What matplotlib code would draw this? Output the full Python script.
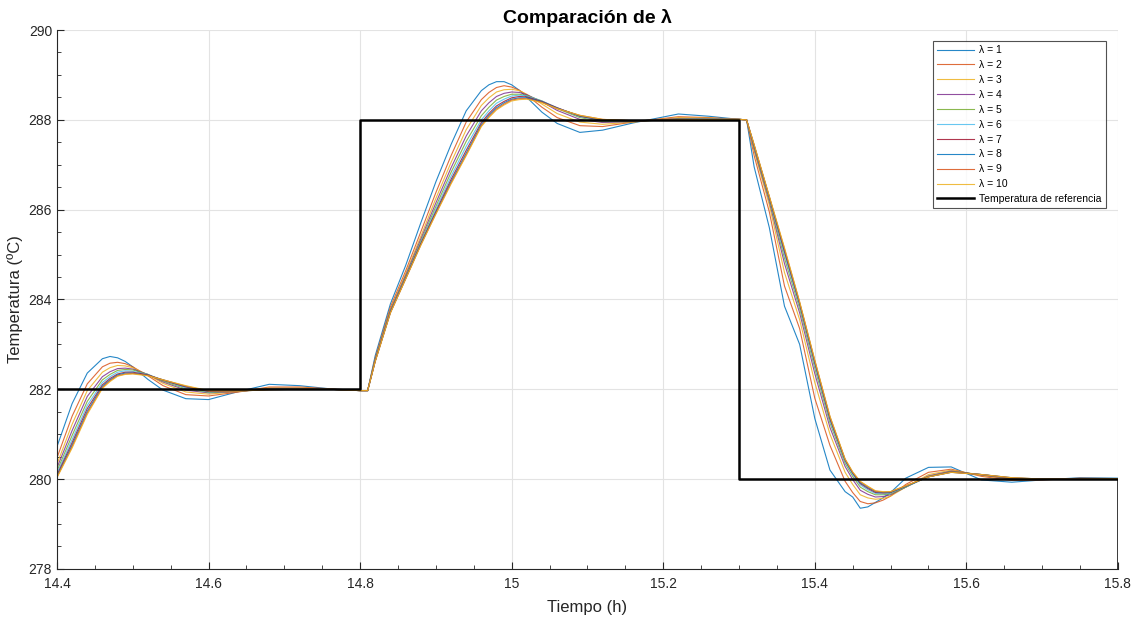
"""
Comparación de la respuesta de temperatura para distintos valores de lambda.
"""
import matplotlib
matplotlib.use("Agg")
import matplotlib.pyplot as plt
from matplotlib.ticker import MultipleLocator

plt.rcParams['font.family'] = ['Liberation Sans', 'DejaVu Sans']

# tiempos de muestreo (h), compartidos por todas las curvas
tiempo = [14.40, 14.42, 14.44, 14.46, 14.47, 14.48, 14.49, 14.50, 14.52, 14.54,
          14.57, 14.60, 14.64, 14.68, 14.72, 14.76, 14.80,
          14.81, 14.82, 14.84, 14.86, 14.88, 14.90, 14.92, 14.94, 14.96, 14.97,
          14.98, 14.99, 15.00, 15.01, 15.02, 15.04, 15.06, 15.09, 15.12, 15.16,
          15.22, 15.26, 15.30,
          15.31, 15.32, 15.34, 15.36, 15.38, 15.40, 15.42, 15.44, 15.45, 15.46,
          15.47, 15.48, 15.49, 15.50, 15.52, 15.55, 15.58, 15.62, 15.66, 15.70,
          15.75, 15.80]

# temperatura (ºC) para cada lambda
lam_1 = [280.72, 281.68, 282.36, 282.68, 282.73, 282.70, 282.62, 282.50, 282.22, 281.98,
         281.79, 281.77, 281.95, 282.11, 282.08, 282.01, 281.97,
         281.97, 282.75, 283.90, 284.75, 285.70, 286.62, 287.45, 288.20, 288.65, 288.78,
         288.85, 288.85, 288.78, 288.66, 288.50, 288.17, 287.92, 287.72, 287.77, 287.93,
         288.13, 288.08, 288.01,
         288.00, 286.95, 285.60, 283.85, 283.00, 281.35, 280.20, 279.72, 279.60, 279.35,
         279.38, 279.48, 279.58, 279.70, 280.02, 280.26, 280.27, 279.98, 279.93, 279.98,
         280.03, 280.02]
lam_2 = [280.47, 281.40, 282.12, 282.50, 282.58, 282.60, 282.57, 282.50, 282.30, 282.08,
         281.88, 281.85, 281.94, 282.05, 282.05, 282.01, 281.97,
         281.97, 282.70, 283.83, 284.63, 285.50, 286.38, 287.20, 287.95, 288.45, 288.61,
         288.72, 288.76, 288.73, 288.66, 288.55, 288.28, 288.05, 287.87, 287.85, 287.95,
         288.07, 288.05, 288.01,
         288.00, 287.20, 285.95, 284.30, 283.35, 281.80, 280.75, 279.95, 279.70, 279.50,
         279.45, 279.47, 279.53, 279.62, 279.88, 280.15, 280.22, 280.06, 279.97, 279.98,
         280.02, 280.01]
lam_3 = [280.33, 281.22, 281.97, 282.38, 282.48, 282.53, 282.52, 282.48, 282.32, 282.13,
         281.94, 281.89, 281.95, 282.03, 282.03, 282.00, 281.97,
         281.97, 282.67, 283.78, 284.57, 285.40, 286.25, 287.05, 287.78, 288.32, 288.49,
         288.62, 288.67, 288.68, 288.65, 288.57, 288.35, 288.14, 287.95, 287.90, 287.95,
         288.05, 288.04, 288.01,
         288.00, 287.30, 286.10, 284.60, 283.55, 282.15, 281.00, 280.15, 279.88, 279.65,
         279.58, 279.55, 279.57, 279.62, 279.82, 280.10, 280.20, 280.08, 279.99, 279.99,
         280.01, 280.01]
lam_4 = [280.25, 281.08, 281.84, 282.28, 282.39, 282.46, 282.47, 282.45, 282.33, 282.16,
         281.98, 281.92, 281.95, 282.02, 282.02, 282.00, 281.97,
         281.97, 282.66, 283.76, 284.53, 285.34, 286.15, 286.93, 287.64, 288.20, 288.38,
         288.52, 288.59, 288.62, 288.61, 288.56, 288.40, 288.21, 288.01, 287.94, 287.96,
         288.03, 288.03, 288.01,
         288.00, 287.35, 286.18, 284.80, 283.70, 282.35, 281.15, 280.28, 279.99, 279.75,
         279.66, 279.60, 279.61, 279.65, 279.82, 280.07, 280.18, 280.09, 280.00, 279.99,
         280.01, 280.01]
lam_5 = [280.18, 280.97, 281.73, 282.21, 282.33, 282.42, 282.44, 282.43, 282.33, 282.18,
         282.01, 281.93, 281.96, 282.01, 282.01, 282.00, 281.97,
         281.97, 282.65, 283.74, 284.50, 285.29, 286.07, 286.83, 287.52, 288.09, 288.28,
         288.44, 288.52, 288.57, 288.57, 288.54, 288.42, 288.25, 288.05, 287.96, 287.96,
         288.02, 288.02, 288.01,
         288.00, 287.38, 286.22, 284.92, 283.80, 282.47, 281.25, 280.35, 280.06, 279.82,
         279.72, 279.65, 279.65, 279.67, 279.82, 280.06, 280.17, 280.10, 280.01, 280.00,
         280.00, 280.01]
lam_6 = [280.13, 280.88, 281.64, 282.15, 282.28, 282.38, 282.41, 282.40, 282.33, 282.20,
         282.03, 281.94, 281.96, 282.00, 282.01, 282.00, 281.97,
         281.97, 282.64, 283.73, 284.48, 285.26, 286.01, 286.74, 287.41, 288.00, 288.20,
         288.37, 288.46, 288.53, 288.55, 288.53, 288.42, 288.27, 288.07, 287.98, 287.97,
         288.01, 288.02, 288.01,
         288.00, 287.40, 286.25, 285.00, 283.86, 282.54, 281.30, 280.39, 280.10, 279.87,
         279.76, 279.68, 279.67, 279.69, 279.83, 280.05, 280.16, 280.10, 280.02, 280.00,
         280.00, 280.01]
lam_7 = [280.09, 280.81, 281.57, 282.10, 282.24, 282.34, 282.38, 282.38, 282.32, 282.20,
         282.05, 281.95, 281.96, 282.00, 282.00, 282.00, 281.97,
         281.97, 282.63, 283.72, 284.47, 285.24, 285.96, 286.67, 287.32, 287.94, 288.14,
         288.31, 288.41, 288.49, 288.52, 288.51, 288.41, 288.27, 288.08, 287.99, 287.97,
         288.01, 288.01, 288.01,
         288.00, 287.42, 286.27, 285.06, 283.90, 282.59, 281.34, 280.42, 280.13, 279.90,
         279.79, 279.70, 279.69, 279.70, 279.84, 280.05, 280.16, 280.10, 280.02, 280.00,
         280.00, 280.01]
lam_8 = [280.06, 280.76, 281.51, 282.07, 282.21, 282.32, 282.36, 282.36, 282.31, 282.21,
         282.06, 281.96, 281.96, 281.99, 282.00, 282.00, 281.97,
         281.97, 282.63, 283.71, 284.46, 285.22, 285.93, 286.62, 287.26, 287.90, 288.10,
         288.27, 288.38, 288.46, 288.49, 288.49, 288.40, 288.26, 288.09, 288.00, 287.98,
         288.00, 288.01, 288.01,
         288.00, 287.43, 286.28, 285.10, 283.92, 282.62, 281.37, 280.43, 280.14, 279.92,
         279.81, 279.72, 279.70, 279.71, 279.84, 280.05, 280.15, 280.10, 280.03, 280.00,
         280.00, 280.01]
lam_9 = [280.04, 280.72, 281.47, 282.04, 282.19, 282.30, 282.34, 282.35, 282.31, 282.21,
         282.07, 281.96, 281.96, 281.99, 282.00, 282.00, 281.97,
         281.97, 282.62, 283.70, 284.45, 285.21, 285.91, 286.59, 287.22, 287.87, 288.07,
         288.24, 288.35, 288.44, 288.47, 288.47, 288.39, 288.25, 288.10, 288.01, 287.98,
         288.00, 288.01, 288.01,
         288.00, 287.44, 286.29, 285.13, 283.94, 282.64, 281.39, 280.44, 280.15, 279.94,
         279.83, 279.73, 279.71, 279.72, 279.85, 280.05, 280.15, 280.10, 280.03, 280.00,
         280.00, 280.01]
lam_10 = [280.03, 280.69, 281.44, 282.02, 282.17, 282.29, 282.33, 282.34, 282.30, 282.21,
          282.08, 281.97, 281.96, 281.99, 282.00, 282.00, 281.97,
          281.97, 282.62, 283.70, 284.45, 285.20, 285.90, 286.57, 287.20, 287.85, 288.05,
          288.22, 288.33, 288.42, 288.45, 288.46, 288.38, 288.25, 288.10, 288.01, 287.98,
          288.00, 288.01, 288.01,
          288.00, 287.45, 286.30, 285.15, 283.95, 282.65, 281.40, 280.45, 280.16, 279.95,
          279.84, 279.74, 279.72, 279.72, 279.85, 280.05, 280.15, 280.10, 280.03, 280.00,
          280.00, 280.01]

curvas = [lam_1, lam_2, lam_3, lam_4, lam_5, lam_6, lam_7, lam_8, lam_9, lam_10]
etiquetas = ['λ = 1', 'λ = 2', 'λ = 3', 'λ = 4', 'λ = 5',
             'λ = 6', 'λ = 7', 'λ = 8', 'λ = 9', 'λ = 10']

# temperatura de referencia (escalones)
ref_tiempo = [14.4, 14.8, 15.3, 15.8]
ref_temp = [282, 288, 280, 270]

# colores por defecto de MATLAB
colores = ['#0072BD', '#D95319', '#EDB120', '#7E2F8E', '#77AC30',
           '#4DBEEE', '#A2142F', '#0072BD', '#D95319', '#EDB120']

fig = plt.figure(figsize=(11.39, 6.19), dpi=100)
ax = fig.add_axes([0.050, 0.081, 0.9315, 0.8705])

for valores, color, etiqueta in zip(curvas, colores, etiquetas):
    ax.plot(tiempo, valores, color=color, lw=0.8, alpha=0.85, label=etiqueta)

ax.plot(ref_tiempo, ref_temp, drawstyle='steps-post', color='black', lw=1.8,
        label='Temperatura de referencia')

ax.set_xlim(14.4, 15.8)
ax.set_ylim(278, 290)
ax.xaxis.set_major_locator(MultipleLocator(0.2))
ax.xaxis.set_minor_locator(MultipleLocator(0.05))
ax.yaxis.set_major_locator(MultipleLocator(2))
ax.yaxis.set_minor_locator(MultipleLocator(0.5))
ax.set_xticks([14.4, 14.6, 14.8, 15.0, 15.2, 15.4, 15.6, 15.8])
ax.set_xticklabels(['14.4', '14.6', '14.8', '15', '15.2', '15.4', '15.6', '15.8'])

ax.grid(True, which='major', color='#e3e3e3', lw=0.8)
ax.set_axisbelow(True)
ax.spines['top'].set_visible(False)
ax.spines['right'].set_visible(False)
for lado in ['left', 'bottom']:
    ax.spines[lado].set_color('#262626')
    ax.spines[lado].set_linewidth(0.8)
ax.tick_params(which='both', direction='in', colors='#262626', labelsize=10)
ax.tick_params(which='major', length=5)
ax.tick_params(axis='x', which='both', pad=6)
ax.tick_params(which='minor', length=3)

ax.set_xlabel('Tiempo (h)', fontsize=12, color='#262626', labelpad=6)
ax.set_ylabel('Temperatura (ºC)', fontsize=12, color='#262626', labelpad=4)
ax.set_title('Comparación de λ', fontsize=14, fontweight='bold', pad=5)

leg = ax.legend(loc='upper right', bbox_to_anchor=(0.9887, 0.9796), borderaxespad=0,
                fontsize=7.5, frameon=True, fancybox=False, handlelength=3.6,
                labelspacing=0.47, handletextpad=0.5, borderpad=0.4)
leg.get_frame().set_edgecolor('#262626')
leg.get_frame().set_linewidth(0.8)

fig.savefig('out.png', dpi=100)
